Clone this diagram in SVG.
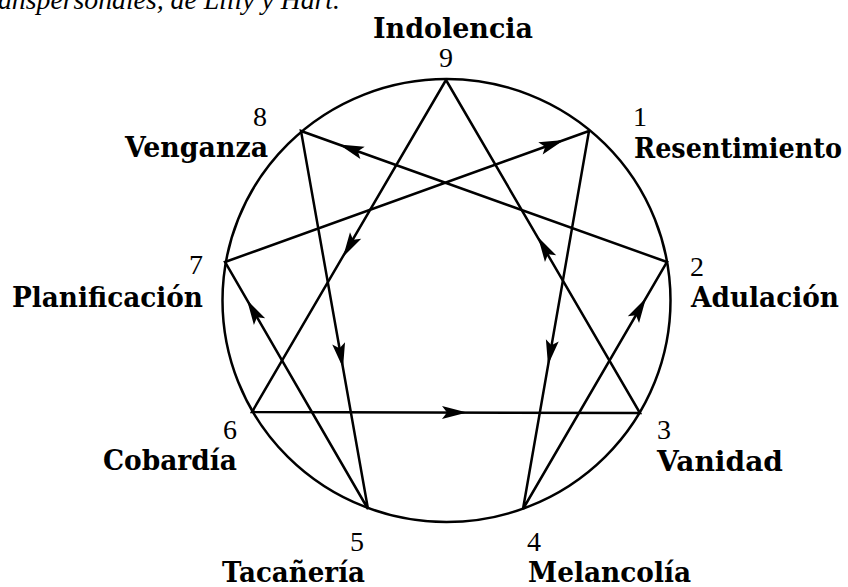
<svg xmlns="http://www.w3.org/2000/svg" xmlns:xlink="http://www.w3.org/1999/xlink" width="848" height="587" viewBox="0 0 848 587">
<style>
.num{font-family:"Liberation Serif","DejaVu Serif",serif;font-size:28px;fill:#000}
.lab{font-family:"DejaVu Serif","Liberation Serif",serif;font-weight:bold;font-size:27px;fill:#000}
.cap{font-family:"Liberation Serif",serif;font-style:italic;font-size:28px;fill:#000}
.ln{stroke:#000;stroke-width:2.5;fill:none;stroke-linecap:round}
</style>
<defs>
<path id="ah" d="M0,0 L-25,-6.5 L-20,0 L-25,6.5 Z" fill="#000"/>
</defs>
<rect width="848" height="587" fill="#fff"/>
<text class="cap" x="-2" y="9" textLength="342" lengthAdjust="spacingAndGlyphs">anspersonales, de Lilly y Hart.</text>
<g id="circle">
<ellipse cx="446.5" cy="300.5" rx="224" ry="221.5" class="ln"/>
</g>
<g id="connectors">
<polyline class="ln" points="446,80 640,413 252,412 446,80"/>
<polyline class="ln" points="589,131 523,509 667,262 301,131 368,509 225,262 589,131"/>
<use xlink:href="#ah" href="#ah" transform="translate(339,144.5) rotate(199.7)"/>
<use xlink:href="#ah" href="#ah" transform="translate(564,140) rotate(-19.8)"/>
<use xlink:href="#ah" href="#ah" transform="translate(343,257) rotate(120.3)"/>
<use xlink:href="#ah" href="#ah" transform="translate(538,237) rotate(-120.2)"/>
<use xlink:href="#ah" href="#ah" transform="translate(343,368) rotate(79.95)"/>
<use xlink:href="#ah" href="#ah" transform="translate(548,365) rotate(99.9)"/>
<use xlink:href="#ah" href="#ah" transform="translate(247,300) rotate(-120.1)"/>
<use xlink:href="#ah" href="#ah" transform="translate(646,298) rotate(-59.8)"/>
<use xlink:href="#ah" href="#ah" transform="translate(467,412.5) rotate(0.15)"/>
</g>
<g id="node9">
<text class="lab" x="373" y="38" textLength="160" lengthAdjust="spacingAndGlyphs">Indolencia</text>
<text class="num" x="446" y="67" text-anchor="middle">9</text>
</g>
<g id="node1">
<text class="num" x="633" y="126">1</text>
<text class="lab" x="634" y="158" textLength="208" lengthAdjust="spacingAndGlyphs">Resentimiento</text>
</g>
<g id="node2">
<text class="num" x="690" y="276">2</text>
<text class="lab" x="691" y="307" textLength="148" lengthAdjust="spacingAndGlyphs">Adulación</text>
</g>
<g id="node3">
<text class="num" x="657" y="439">3</text>
<text class="lab" x="657" y="471" textLength="126" lengthAdjust="spacingAndGlyphs">Vanidad</text>
</g>
<g id="node4">
<text class="num" x="527" y="551">4</text>
<text class="lab" x="528" y="582" textLength="163" lengthAdjust="spacingAndGlyphs">Melancolía</text>
</g>
<g id="node5">
<text class="num" x="350" y="551">5</text>
<text class="lab" x="222" y="582" textLength="143" lengthAdjust="spacingAndGlyphs">Tacañería</text>
</g>
<g id="node6">
<text class="num" x="223" y="439">6</text>
<text class="lab" x="103" y="470" textLength="134" lengthAdjust="spacingAndGlyphs">Cobardía</text>
</g>
<g id="node7">
<text class="num" x="189" y="274">7</text>
<text class="lab" x="12" y="307" textLength="191" lengthAdjust="spacingAndGlyphs">Planificación</text>
</g>
<g id="node8">
<text class="num" x="253" y="126">8</text>
<text class="lab" x="125" y="157" textLength="143" lengthAdjust="spacingAndGlyphs">Venganza</text>
</g>
</svg>
